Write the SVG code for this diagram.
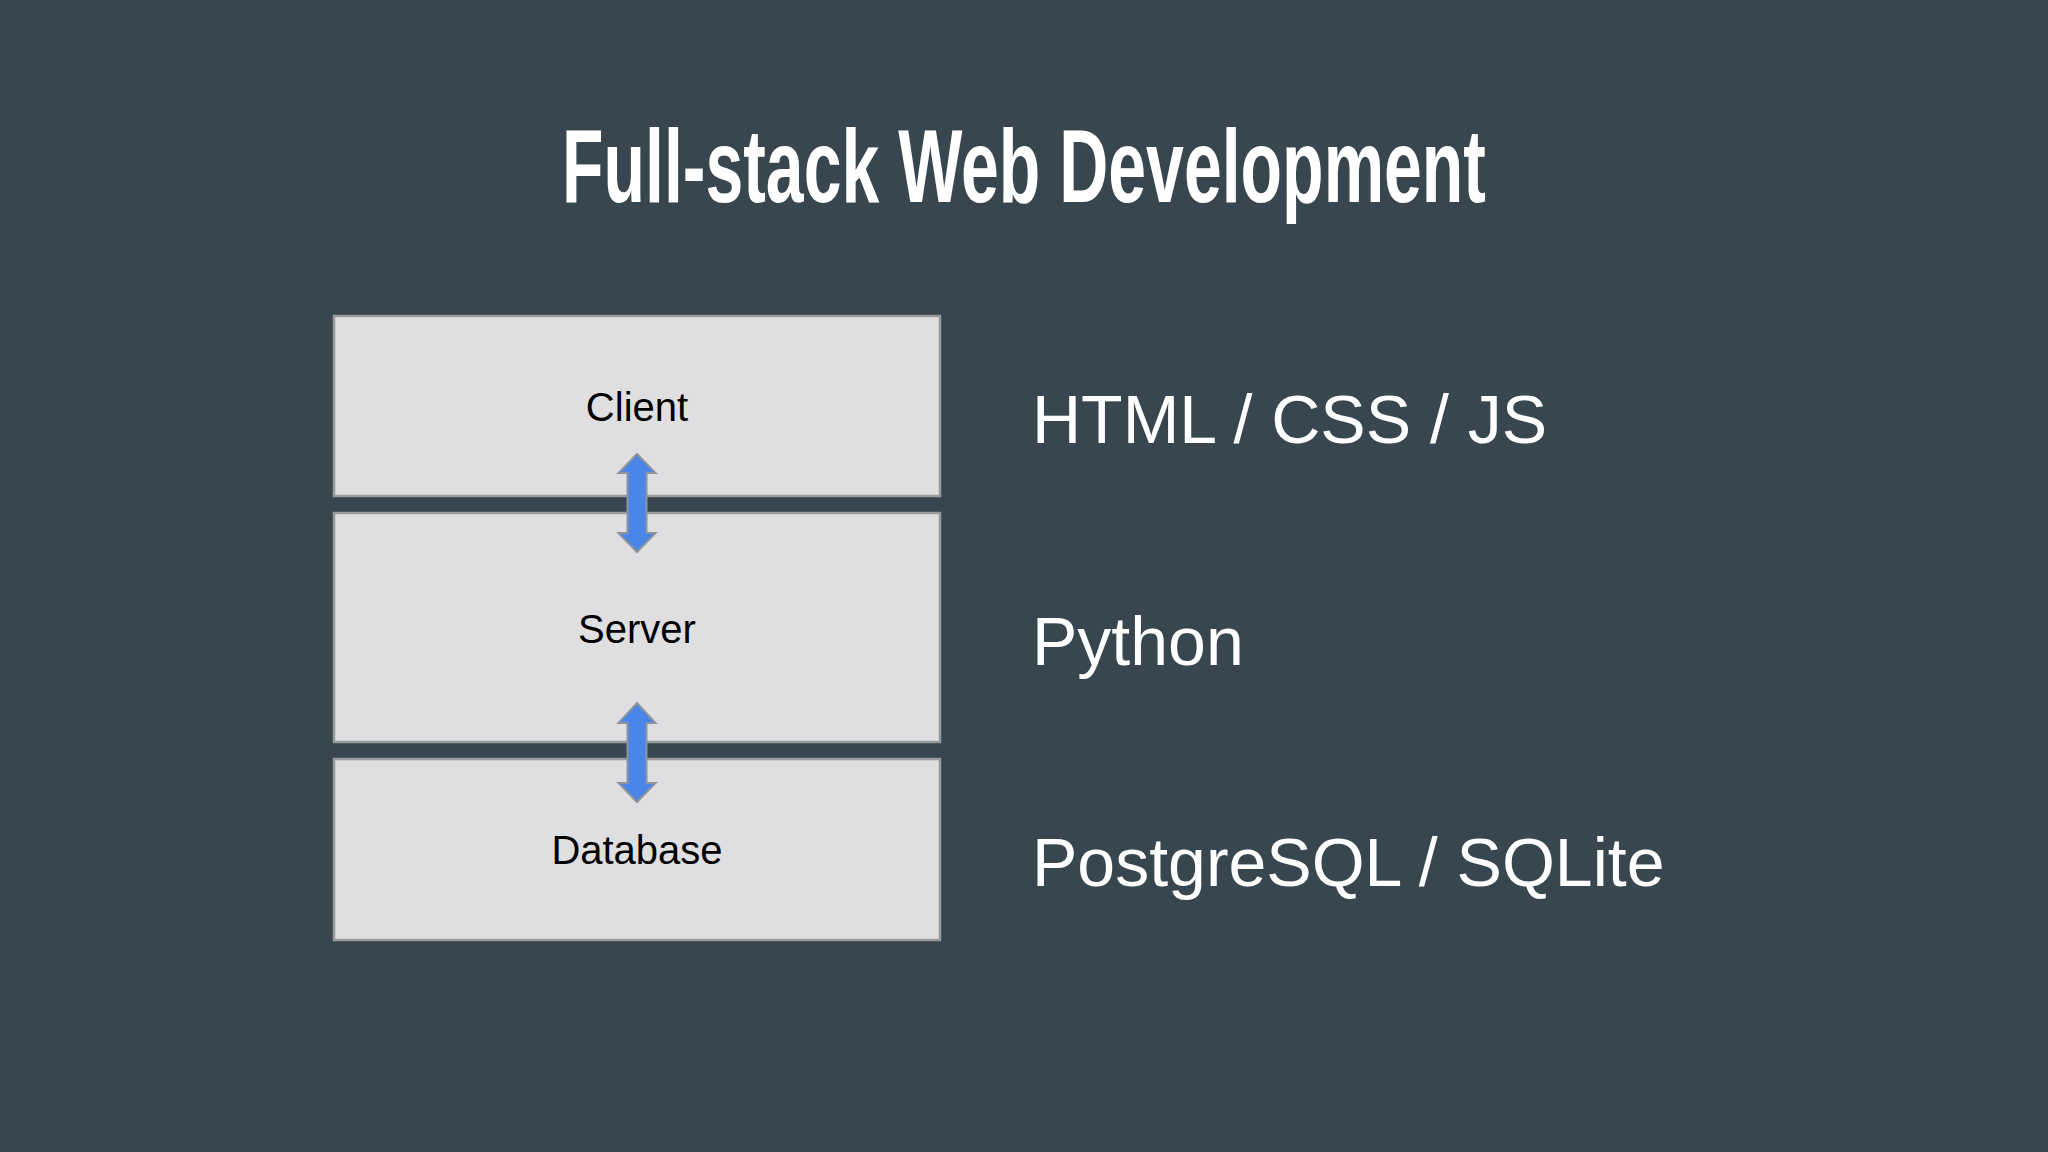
<svg xmlns="http://www.w3.org/2000/svg" width="2048" height="1152" viewBox="0 0 2048 1152">
<style>
.box{fill:#dfdee0;stroke:#999a9c;stroke-width:2.5}
.lbl{font-family:"Liberation Sans",Arial,sans-serif;font-size:40px;fill:#000;text-anchor:middle}
.side{font-family:"Liberation Sans",Arial,sans-serif;font-size:68px;fill:#ffffff}
.arr{fill:#4a86e8;stroke:#8e949a;stroke-width:2;stroke-linejoin:miter}
</style>
<rect width="2048" height="1152" fill="#37464f"/>
<text x="1024" y="202" text-anchor="middle" font-family="Liberation Sans,Arial,sans-serif" font-weight="bold" font-size="104" fill="#ffffff" textLength="924" lengthAdjust="spacingAndGlyphs">Full-stack Web Development</text>
<g id="client"><rect class="box" x="334" y="316" width="606" height="180"/><text class="lbl" x="637" y="421">Client</text></g>
<g id="server"><rect class="box" x="334" y="513" width="606" height="229"/><text class="lbl" x="637" y="643">Server</text></g>
<g id="database"><rect class="box" x="334" y="759" width="606" height="181"/><text class="lbl" x="637" y="864">Database</text></g>
<g id="connectors">
<path class="arr" d="M637 454 L655.5 473 L646.5 473 L646.5 533 L655.5 533 L637 552 L618.5 533 L627.5 533 L627.5 473 L618.5 473 Z"/>
<path class="arr" d="M637 703 L655.5 723 L646.5 723 L646.5 783 L655.5 783 L637 802 L618.5 783 L627.5 783 L627.5 723 L618.5 723 Z"/>
</g>
<text class="side" x="1032" y="443">HTML / CSS / JS</text>
<text class="side" x="1032" y="665">Python</text>
<text class="side" x="1032" y="886">PostgreSQL / SQLite</text>
</svg>
